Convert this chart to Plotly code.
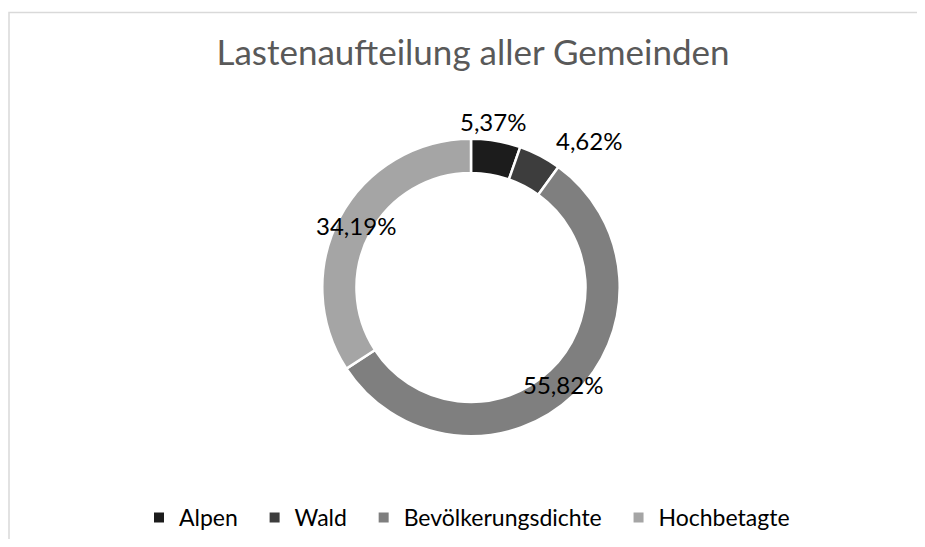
import math
import plotly.graph_objects as go

# ---- data ----
categories = ["Alpen", "Wald", "Bevölkerungsdichte", "Hochbetagte"]
shares = [5.37, 4.62, 55.82, 34.19]
label_texts = ["5,37%", "4,62%", "55,82%", "34,19%"]
colors = ["#1c1c1c", "#3d3d3d", "#7f7f7f", "#a5a5a5"]
title_text = "Lastenaufteilung aller Gemeinden"

# page has an 8px body margin; figure sized to fit the 925x547 window without scrollbars
OFF = 8
W, H = 925 - 2 * OFF, 547 - 2 * OFF
FONT = "Lato"


def fx(X):
    return (X - OFF) / W


def fy(Y):
    return 1 - (Y - OFF) / H


# donut geometry (page pixels)
cx, cy, R = 471, 288, 149

fig = go.Figure()
fig.add_trace(go.Pie(
    labels=[c + "\u00a0\u00a0" for c in categories],
    values=shares,
    sort=False,
    direction="clockwise",
    rotation=0,
    hole=0.77,
    marker=dict(colors=colors, line=dict(color="white", width=2.5)),
    textinfo="none",
    hoverinfo="label+percent",
    domain=dict(x=[fx(cx - R), fx(cx + R)],
                y=[fy(cy + R), fy(cy - R)]),
))

# label positions from cumulative shares (mid-angle), with radius/angle tweaks
label_r = [168, 189, 134, 131]
label_da = [-2.2, 11.0, 0.0, 0.0]
total = sum(shares)
cum = 0.0
annotations = []
for i, v in enumerate(shares):
    mid = (cum + v / 2) / total * 360.0 + label_da[i]
    cum += v
    a = math.radians(mid)
    px = cx + label_r[i] * math.sin(a)
    py = cy - label_r[i] * math.cos(a)
    annotations.append(dict(
        x=fx(px), y=fy(py), xref="paper", yref="paper",
        text=label_texts[i], showarrow=False,
        xanchor="center", yanchor="middle",
        font=dict(family=FONT, size=24, color="#000000"),
    ))

fig.update_layout(
    width=W, height=H,
    margin=dict(l=0, r=0, t=0, b=0),
    paper_bgcolor="white",
    plot_bgcolor="white",
    title=dict(text=title_text, x=fx(473), xanchor="center",
               y=fy(52.5), yanchor="middle",
               font=dict(family=FONT, size=35, color="#595959")),
    showlegend=True,
    legend=dict(orientation="h", x=fx(473), xanchor="center",
                y=fy(518), yanchor="middle",
                font=dict(family=FONT, size=23, color="#000000"),
                itemsizing="constant"),
    annotations=annotations,
    shapes=[dict(type="rect", xref="paper", yref="paper",
                 x0=fx(9), x1=1.1, y0=-0.1, y1=fy(12.5),
                 line=dict(color="#d9d9d9", width=1.5), layer="below")],
)

fig.write_html("out.html")
